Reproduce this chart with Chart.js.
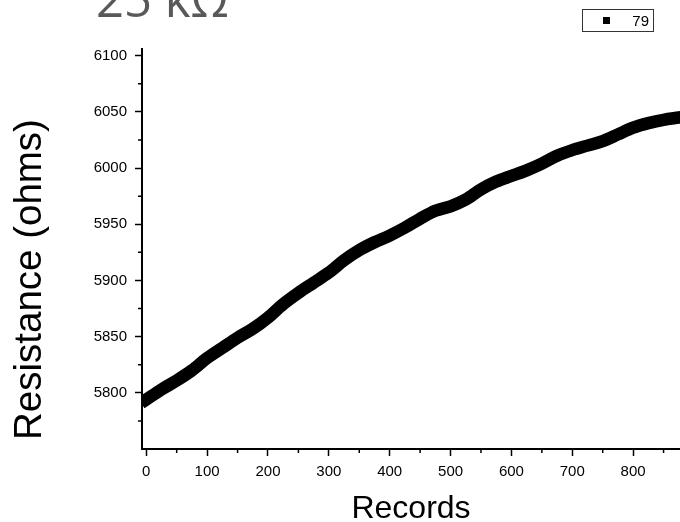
<!DOCTYPE html>
<html>
<head>
<meta charset="utf-8">
<script src="https://cdn.jsdelivr.net/npm/chart.js@4.4.0/dist/chart.umd.min.js"></script>
<style>
  html, body { margin: 0; padding: 0; background: #fff; }
  #wrap { position: relative; width: 680px; height: 522px; overflow: hidden; }
  #title { position: absolute; left: 96px; top: -35px; font: 49px "Open Sans"; color: #595959; white-space: nowrap; }
  #legend { position: absolute; left: 582px; top: 9px; width: 72px; height: 23px; box-sizing: border-box;
            border: 1px solid #333; font: 15px "Liberation Sans", Arial, sans-serif; color: #000; }
  #legend .mark { position: absolute; left: 20px; top: 7px; width: 7px; height: 7px; background: #000; }
  #legend .txt { position: absolute; right: 4px; top: 2px; }
</style>
</head>
<body>
<div id="wrap">
  <canvas id="chart" width="680" height="522"></canvas>
  <div id="title">25 kΩ</div>
  <div id="legend"></div>
</div>
<script>
// values
const records = [0, 25, 50, 75, 100, 125, 150, 175, 200, 225, 250, 275, 300, 325, 350, 375, 400, 425,
  450, 475, 500, 525, 550, 575, 600, 625, 650, 675, 700, 725, 750, 775, 800, 825, 850, 875];
const resistance = [5794, 5803, 5811, 5820, 5831, 5840, 5849, 5857, 5867, 5879, 5889, 5898, 5907, 5918,
  5927, 5934, 5940, 5947, 5955, 5962, 5966, 5972, 5981, 5988, 5993, 5998, 6004, 6011, 6016, 6020,
  6024, 6030, 6036, 6040, 6043, 6045];
const seriesLabel = '79';

const xTicks = [0, 100, 200, 300, 400, 500, 600, 700, 800];
const xMinor = [50, 150, 250, 350, 450, 550, 650, 750, 850];
const yTicks = [5800, 5850, 5900, 5950, 6000, 6050, 6100];
const yMinor = [5775, 5825, 5875, 5925, 5975, 6025, 6075];

const xTitle = 'Records';
const yTitle = 'Resistance (ohms)';

const FONT = '"Liberation Sans", Arial, sans-serif';

// legend (Origin style box)
const legend = document.getElementById('legend');
legend.innerHTML = '<span class="mark"></span><span class="txt">' + seriesLabel + '</span>';

// short outward minor ticks + rotated y title
const extras = {
  id: 'extras',
  afterDraw(chart) {
    const { ctx, chartArea, scales: { x, y } } = chart;
    ctx.save();
    ctx.strokeStyle = '#000';
    ctx.lineWidth = 1.5;
    ctx.beginPath();
    xMinor.forEach(v => {
      const px = x.getPixelForValue(v);
      if (px > chartArea.right) return;
      ctx.moveTo(px, chartArea.bottom);
      ctx.lineTo(px, chartArea.bottom + 4);
    });
    yMinor.forEach(v => {
      const py = y.getPixelForValue(v);
      ctx.moveTo(chartArea.left, py);
      ctx.lineTo(chartArea.left - 4, py);
    });
    ctx.stroke();

    ctx.translate(30, chartArea.bottom - 9);
    ctx.rotate(-Math.PI / 2);
    ctx.fillStyle = '#000';
    ctx.font = '38.5px ' + FONT;
    ctx.textAlign = 'left';
    ctx.textBaseline = 'middle';
    ctx.fillText(yTitle, 0, 0);
    ctx.restore();
  }
};

new Chart(document.getElementById('chart'), {
  type: 'line',
  data: {
    datasets: [{
      label: seriesLabel,
      data: records.map((r, i) => ({ x: r, y: resistance[i] })),
      borderColor: '#000',
      backgroundColor: '#000',
      borderWidth: 12.5,
      borderCapStyle: 'square',
      pointRadius: 0,
      cubicInterpolationMode: 'monotone',
      fill: false
    }]
  },
  options: {
    responsive: false,
    animation: false,
    layout: { padding: { top: 49, right: 0, left: 0, bottom: 0 } },
    plugins: { legend: { display: false }, title: { display: false }, tooltip: { enabled: false } },
    scales: {
      x: {
        type: 'linear',
        min: -7,
        max: 877,
        afterBuildTicks: s => { s.ticks = xTicks.map(v => ({ value: v })); },
        afterFit: s => { s.height = 73; },
        grid: { drawOnChartArea: false, tickLength: 7, tickWidth: 1.5, tickColor: '#000' },
        border: { display: true, color: '#000', width: 2 },
        ticks: { color: '#000', font: { family: FONT, size: 15 }, padding: 7, maxRotation: 0,
                 callback: v => String(v) },
        title: { display: true, text: xTitle, color: '#000', font: { family: FONT, size: 32, lineHeight: 1 }, padding: { top: 0, bottom: -3 } }
      },
      y: {
        min: 5750,
        max: 6106,
        afterBuildTicks: s => { s.ticks = yTicks.map(v => ({ value: v })); },
        afterFit: s => { s.width = 142; },
        grid: { drawOnChartArea: false, tickLength: 7, tickWidth: 1.5, tickColor: '#000' },
        border: { display: true, color: '#000', width: 2 },
        ticks: { color: '#000', font: { family: FONT, size: 15 }, padding: 8, callback: v => String(v) }
      }
    }
  },
  plugins: [extras]
});
</script>
</body>
</html>
